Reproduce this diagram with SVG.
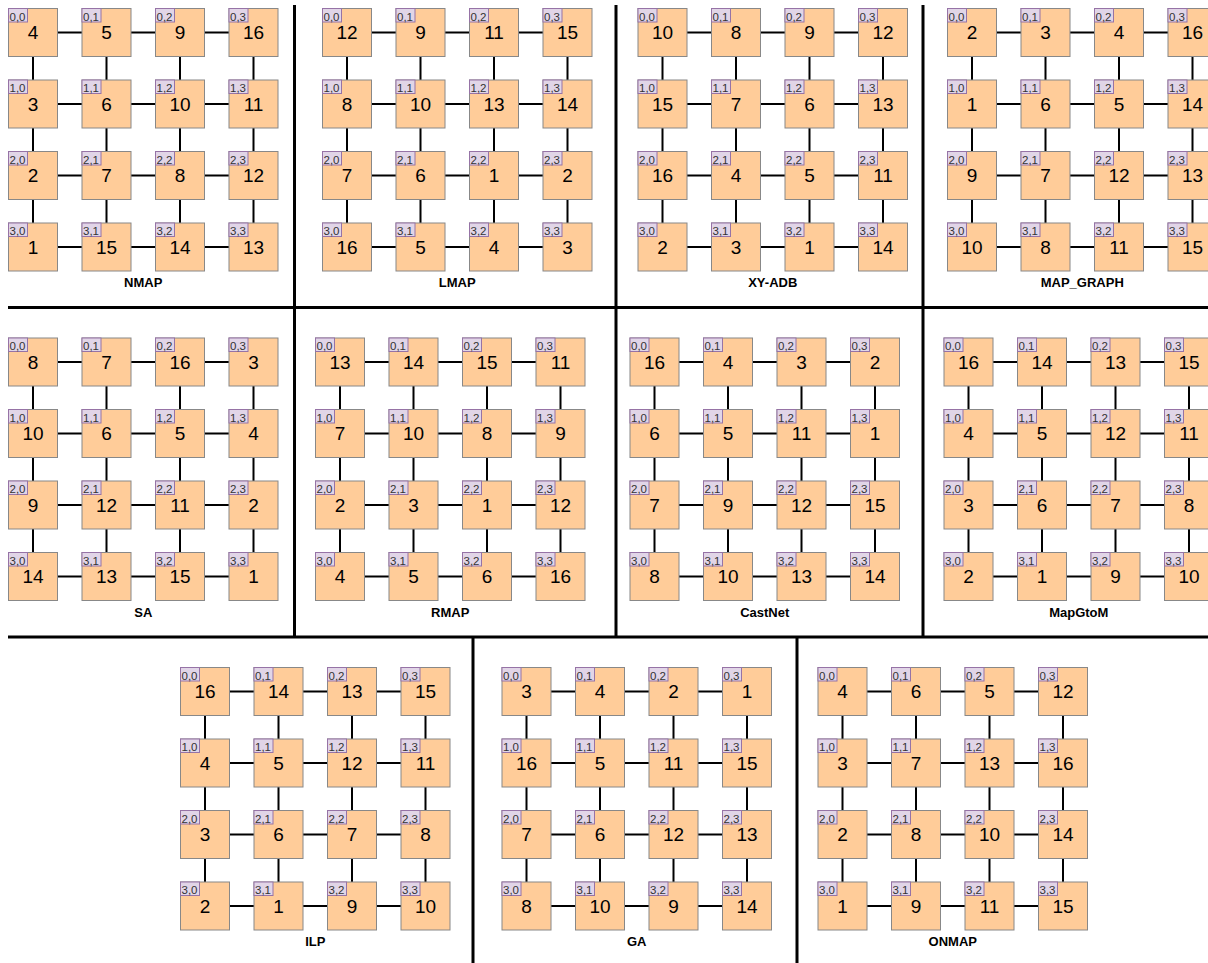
<svg xmlns="http://www.w3.org/2000/svg" xmlns:xlink="http://www.w3.org/1999/xlink" width="1208" height="963" viewBox="0 0 1208 963">
<style>
.n{fill:#ffcc99;stroke:#888;stroke-width:1}
.t{fill:#e1d5e7;stroke:#9673a6;stroke-width:1}
.c{font-family:"Liberation Sans",Arial,sans-serif;font-size:11.5px;fill:#333}
.v{font-family:"Liberation Sans",Arial,sans-serif;font-size:19px;fill:#000;text-anchor:middle}
.lbl{font-family:"Liberation Sans",Arial,sans-serif;font-size:13px;font-weight:bold;fill:#000;text-anchor:middle}
.e{fill:none;stroke:#000;stroke-width:2}
.d{fill:none;stroke:#000;stroke-width:3}
</style>
<defs>
<path id="grid" class="e" d="M49 24H73.5M122.5 24H147M196 24H220.5M49 95.5H73.5M122.5 95.5H147M196 95.5H220.5M49 167H73.5M122.5 167H147M196 167H220.5M49 238.5H73.5M122.5 238.5H147M196 238.5H220.5M24.5 48V71.5M24.5 119.5V143M24.5 191V214.5M98 48V71.5M98 119.5V143M98 191V214.5M171.5 48V71.5M171.5 119.5V143M171.5 191V214.5M245 48V71.5M245 119.5V143M245 191V214.5"/>
</defs>
<rect width="1208" height="963" fill="#fff"/>
<g id="dividers">
<path class="d" d="M8 307.5H1208M8 637H1208M294.5 5V637M616 5V637M923 5V637M473 637V963M797 637V963"/>
</g>
<g id="connectors">
<use xlink:href="#grid" transform="translate(8.5,8.5)"/>
<use xlink:href="#grid" transform="translate(322.5,8.5)"/>
<use xlink:href="#grid" transform="translate(638,8.5)"/>
<use xlink:href="#grid" transform="translate(947.5,8.5)"/>
<use xlink:href="#grid" transform="translate(8.5,338)"/>
<use xlink:href="#grid" transform="translate(315.5,338)"/>
<use xlink:href="#grid" transform="translate(630,338)"/>
<use xlink:href="#grid" transform="translate(944,338)"/>
<use xlink:href="#grid" transform="translate(180.5,667.5)"/>
<use xlink:href="#grid" transform="translate(502,667.5)"/>
<use xlink:href="#grid" transform="translate(818,667.5)"/>
</g>

<g id="nmap" transform="translate(8.5,8.5)">
<g id="nmap-00" transform="translate(0,0)"><rect class="n" width="49" height="48"/><rect class="t" width="19" height="13.5"/><text class="c" x="1" y="12">0,0</text><text class="v" x="24.5" y="30.5">4</text></g>
<g id="nmap-01" transform="translate(73.5,0)"><rect class="n" width="49" height="48"/><rect class="t" width="19" height="13.5"/><text class="c" x="1" y="12">0,1</text><text class="v" x="24.5" y="30.5">5</text></g>
<g id="nmap-02" transform="translate(147,0)"><rect class="n" width="49" height="48"/><rect class="t" width="19" height="13.5"/><text class="c" x="1" y="12">0,2</text><text class="v" x="24.5" y="30.5">9</text></g>
<g id="nmap-03" transform="translate(220.5,0)"><rect class="n" width="49" height="48"/><rect class="t" width="19" height="13.5"/><text class="c" x="1" y="12">0,3</text><text class="v" x="24.5" y="30.5">16</text></g>
<g id="nmap-10" transform="translate(0,71.5)"><rect class="n" width="49" height="48"/><rect class="t" width="19" height="13.5"/><text class="c" x="1" y="12">1,0</text><text class="v" x="24.5" y="30.5">3</text></g>
<g id="nmap-11" transform="translate(73.5,71.5)"><rect class="n" width="49" height="48"/><rect class="t" width="19" height="13.5"/><text class="c" x="1" y="12">1,1</text><text class="v" x="24.5" y="30.5">6</text></g>
<g id="nmap-12" transform="translate(147,71.5)"><rect class="n" width="49" height="48"/><rect class="t" width="19" height="13.5"/><text class="c" x="1" y="12">1,2</text><text class="v" x="24.5" y="30.5">10</text></g>
<g id="nmap-13" transform="translate(220.5,71.5)"><rect class="n" width="49" height="48"/><rect class="t" width="19" height="13.5"/><text class="c" x="1" y="12">1,3</text><text class="v" x="24.5" y="30.5">11</text></g>
<g id="nmap-20" transform="translate(0,143)"><rect class="n" width="49" height="48"/><rect class="t" width="19" height="13.5"/><text class="c" x="1" y="12">2,0</text><text class="v" x="24.5" y="30.5">2</text></g>
<g id="nmap-21" transform="translate(73.5,143)"><rect class="n" width="49" height="48"/><rect class="t" width="19" height="13.5"/><text class="c" x="1" y="12">2,1</text><text class="v" x="24.5" y="30.5">7</text></g>
<g id="nmap-22" transform="translate(147,143)"><rect class="n" width="49" height="48"/><rect class="t" width="19" height="13.5"/><text class="c" x="1" y="12">2,2</text><text class="v" x="24.5" y="30.5">8</text></g>
<g id="nmap-23" transform="translate(220.5,143)"><rect class="n" width="49" height="48"/><rect class="t" width="19" height="13.5"/><text class="c" x="1" y="12">2,3</text><text class="v" x="24.5" y="30.5">12</text></g>
<g id="nmap-30" transform="translate(0,214.5)"><rect class="n" width="49" height="48"/><rect class="t" width="19" height="13.5"/><text class="c" x="1" y="12">3,0</text><text class="v" x="24.5" y="30.5">1</text></g>
<g id="nmap-31" transform="translate(73.5,214.5)"><rect class="n" width="49" height="48"/><rect class="t" width="19" height="13.5"/><text class="c" x="1" y="12">3,1</text><text class="v" x="24.5" y="30.5">15</text></g>
<g id="nmap-32" transform="translate(147,214.5)"><rect class="n" width="49" height="48"/><rect class="t" width="19" height="13.5"/><text class="c" x="1" y="12">3,2</text><text class="v" x="24.5" y="30.5">14</text></g>
<g id="nmap-33" transform="translate(220.5,214.5)"><rect class="n" width="49" height="48"/><rect class="t" width="19" height="13.5"/><text class="c" x="1" y="12">3,3</text><text class="v" x="24.5" y="30.5">13</text></g>
<text class="lbl" x="134.75" y="278.5">NMAP</text>
</g>

<g id="lmap" transform="translate(322.5,8.5)">
<g id="lmap-00" transform="translate(0,0)"><rect class="n" width="49" height="48"/><rect class="t" width="19" height="13.5"/><text class="c" x="1" y="12">0,0</text><text class="v" x="24.5" y="30.5">12</text></g>
<g id="lmap-01" transform="translate(73.5,0)"><rect class="n" width="49" height="48"/><rect class="t" width="19" height="13.5"/><text class="c" x="1" y="12">0,1</text><text class="v" x="24.5" y="30.5">9</text></g>
<g id="lmap-02" transform="translate(147,0)"><rect class="n" width="49" height="48"/><rect class="t" width="19" height="13.5"/><text class="c" x="1" y="12">0,2</text><text class="v" x="24.5" y="30.5">11</text></g>
<g id="lmap-03" transform="translate(220.5,0)"><rect class="n" width="49" height="48"/><rect class="t" width="19" height="13.5"/><text class="c" x="1" y="12">0,3</text><text class="v" x="24.5" y="30.5">15</text></g>
<g id="lmap-10" transform="translate(0,71.5)"><rect class="n" width="49" height="48"/><rect class="t" width="19" height="13.5"/><text class="c" x="1" y="12">1,0</text><text class="v" x="24.5" y="30.5">8</text></g>
<g id="lmap-11" transform="translate(73.5,71.5)"><rect class="n" width="49" height="48"/><rect class="t" width="19" height="13.5"/><text class="c" x="1" y="12">1,1</text><text class="v" x="24.5" y="30.5">10</text></g>
<g id="lmap-12" transform="translate(147,71.5)"><rect class="n" width="49" height="48"/><rect class="t" width="19" height="13.5"/><text class="c" x="1" y="12">1,2</text><text class="v" x="24.5" y="30.5">13</text></g>
<g id="lmap-13" transform="translate(220.5,71.5)"><rect class="n" width="49" height="48"/><rect class="t" width="19" height="13.5"/><text class="c" x="1" y="12">1,3</text><text class="v" x="24.5" y="30.5">14</text></g>
<g id="lmap-20" transform="translate(0,143)"><rect class="n" width="49" height="48"/><rect class="t" width="19" height="13.5"/><text class="c" x="1" y="12">2,0</text><text class="v" x="24.5" y="30.5">7</text></g>
<g id="lmap-21" transform="translate(73.5,143)"><rect class="n" width="49" height="48"/><rect class="t" width="19" height="13.5"/><text class="c" x="1" y="12">2,1</text><text class="v" x="24.5" y="30.5">6</text></g>
<g id="lmap-22" transform="translate(147,143)"><rect class="n" width="49" height="48"/><rect class="t" width="19" height="13.5"/><text class="c" x="1" y="12">2,2</text><text class="v" x="24.5" y="30.5">1</text></g>
<g id="lmap-23" transform="translate(220.5,143)"><rect class="n" width="49" height="48"/><rect class="t" width="19" height="13.5"/><text class="c" x="1" y="12">2,3</text><text class="v" x="24.5" y="30.5">2</text></g>
<g id="lmap-30" transform="translate(0,214.5)"><rect class="n" width="49" height="48"/><rect class="t" width="19" height="13.5"/><text class="c" x="1" y="12">3,0</text><text class="v" x="24.5" y="30.5">16</text></g>
<g id="lmap-31" transform="translate(73.5,214.5)"><rect class="n" width="49" height="48"/><rect class="t" width="19" height="13.5"/><text class="c" x="1" y="12">3,1</text><text class="v" x="24.5" y="30.5">5</text></g>
<g id="lmap-32" transform="translate(147,214.5)"><rect class="n" width="49" height="48"/><rect class="t" width="19" height="13.5"/><text class="c" x="1" y="12">3,2</text><text class="v" x="24.5" y="30.5">4</text></g>
<g id="lmap-33" transform="translate(220.5,214.5)"><rect class="n" width="49" height="48"/><rect class="t" width="19" height="13.5"/><text class="c" x="1" y="12">3,3</text><text class="v" x="24.5" y="30.5">3</text></g>
<text class="lbl" x="134.75" y="278.5">LMAP</text>
</g>

<g id="xyadb" transform="translate(638,8.5)">
<g id="xyadb-00" transform="translate(0,0)"><rect class="n" width="49" height="48"/><rect class="t" width="19" height="13.5"/><text class="c" x="1" y="12">0,0</text><text class="v" x="24.5" y="30.5">10</text></g>
<g id="xyadb-01" transform="translate(73.5,0)"><rect class="n" width="49" height="48"/><rect class="t" width="19" height="13.5"/><text class="c" x="1" y="12">0,1</text><text class="v" x="24.5" y="30.5">8</text></g>
<g id="xyadb-02" transform="translate(147,0)"><rect class="n" width="49" height="48"/><rect class="t" width="19" height="13.5"/><text class="c" x="1" y="12">0,2</text><text class="v" x="24.5" y="30.5">9</text></g>
<g id="xyadb-03" transform="translate(220.5,0)"><rect class="n" width="49" height="48"/><rect class="t" width="19" height="13.5"/><text class="c" x="1" y="12">0,3</text><text class="v" x="24.5" y="30.5">12</text></g>
<g id="xyadb-10" transform="translate(0,71.5)"><rect class="n" width="49" height="48"/><rect class="t" width="19" height="13.5"/><text class="c" x="1" y="12">1,0</text><text class="v" x="24.5" y="30.5">15</text></g>
<g id="xyadb-11" transform="translate(73.5,71.5)"><rect class="n" width="49" height="48"/><rect class="t" width="19" height="13.5"/><text class="c" x="1" y="12">1,1</text><text class="v" x="24.5" y="30.5">7</text></g>
<g id="xyadb-12" transform="translate(147,71.5)"><rect class="n" width="49" height="48"/><rect class="t" width="19" height="13.5"/><text class="c" x="1" y="12">1,2</text><text class="v" x="24.5" y="30.5">6</text></g>
<g id="xyadb-13" transform="translate(220.5,71.5)"><rect class="n" width="49" height="48"/><rect class="t" width="19" height="13.5"/><text class="c" x="1" y="12">1,3</text><text class="v" x="24.5" y="30.5">13</text></g>
<g id="xyadb-20" transform="translate(0,143)"><rect class="n" width="49" height="48"/><rect class="t" width="19" height="13.5"/><text class="c" x="1" y="12">2,0</text><text class="v" x="24.5" y="30.5">16</text></g>
<g id="xyadb-21" transform="translate(73.5,143)"><rect class="n" width="49" height="48"/><rect class="t" width="19" height="13.5"/><text class="c" x="1" y="12">2,1</text><text class="v" x="24.5" y="30.5">4</text></g>
<g id="xyadb-22" transform="translate(147,143)"><rect class="n" width="49" height="48"/><rect class="t" width="19" height="13.5"/><text class="c" x="1" y="12">2,2</text><text class="v" x="24.5" y="30.5">5</text></g>
<g id="xyadb-23" transform="translate(220.5,143)"><rect class="n" width="49" height="48"/><rect class="t" width="19" height="13.5"/><text class="c" x="1" y="12">2,3</text><text class="v" x="24.5" y="30.5">11</text></g>
<g id="xyadb-30" transform="translate(0,214.5)"><rect class="n" width="49" height="48"/><rect class="t" width="19" height="13.5"/><text class="c" x="1" y="12">3,0</text><text class="v" x="24.5" y="30.5">2</text></g>
<g id="xyadb-31" transform="translate(73.5,214.5)"><rect class="n" width="49" height="48"/><rect class="t" width="19" height="13.5"/><text class="c" x="1" y="12">3,1</text><text class="v" x="24.5" y="30.5">3</text></g>
<g id="xyadb-32" transform="translate(147,214.5)"><rect class="n" width="49" height="48"/><rect class="t" width="19" height="13.5"/><text class="c" x="1" y="12">3,2</text><text class="v" x="24.5" y="30.5">1</text></g>
<g id="xyadb-33" transform="translate(220.5,214.5)"><rect class="n" width="49" height="48"/><rect class="t" width="19" height="13.5"/><text class="c" x="1" y="12">3,3</text><text class="v" x="24.5" y="30.5">14</text></g>
<text class="lbl" x="134.75" y="278.5">XY-ADB</text>
</g>

<g id="mapgraph" transform="translate(947.5,8.5)">
<g id="mapgraph-00" transform="translate(0,0)"><rect class="n" width="49" height="48"/><rect class="t" width="19" height="13.5"/><text class="c" x="1" y="12">0,0</text><text class="v" x="24.5" y="30.5">2</text></g>
<g id="mapgraph-01" transform="translate(73.5,0)"><rect class="n" width="49" height="48"/><rect class="t" width="19" height="13.5"/><text class="c" x="1" y="12">0,1</text><text class="v" x="24.5" y="30.5">3</text></g>
<g id="mapgraph-02" transform="translate(147,0)"><rect class="n" width="49" height="48"/><rect class="t" width="19" height="13.5"/><text class="c" x="1" y="12">0,2</text><text class="v" x="24.5" y="30.5">4</text></g>
<g id="mapgraph-03" transform="translate(220.5,0)"><rect class="n" width="49" height="48"/><rect class="t" width="19" height="13.5"/><text class="c" x="1" y="12">0,3</text><text class="v" x="24.5" y="30.5">16</text></g>
<g id="mapgraph-10" transform="translate(0,71.5)"><rect class="n" width="49" height="48"/><rect class="t" width="19" height="13.5"/><text class="c" x="1" y="12">1,0</text><text class="v" x="24.5" y="30.5">1</text></g>
<g id="mapgraph-11" transform="translate(73.5,71.5)"><rect class="n" width="49" height="48"/><rect class="t" width="19" height="13.5"/><text class="c" x="1" y="12">1,1</text><text class="v" x="24.5" y="30.5">6</text></g>
<g id="mapgraph-12" transform="translate(147,71.5)"><rect class="n" width="49" height="48"/><rect class="t" width="19" height="13.5"/><text class="c" x="1" y="12">1,2</text><text class="v" x="24.5" y="30.5">5</text></g>
<g id="mapgraph-13" transform="translate(220.5,71.5)"><rect class="n" width="49" height="48"/><rect class="t" width="19" height="13.5"/><text class="c" x="1" y="12">1,3</text><text class="v" x="24.5" y="30.5">14</text></g>
<g id="mapgraph-20" transform="translate(0,143)"><rect class="n" width="49" height="48"/><rect class="t" width="19" height="13.5"/><text class="c" x="1" y="12">2,0</text><text class="v" x="24.5" y="30.5">9</text></g>
<g id="mapgraph-21" transform="translate(73.5,143)"><rect class="n" width="49" height="48"/><rect class="t" width="19" height="13.5"/><text class="c" x="1" y="12">2,1</text><text class="v" x="24.5" y="30.5">7</text></g>
<g id="mapgraph-22" transform="translate(147,143)"><rect class="n" width="49" height="48"/><rect class="t" width="19" height="13.5"/><text class="c" x="1" y="12">2,2</text><text class="v" x="24.5" y="30.5">12</text></g>
<g id="mapgraph-23" transform="translate(220.5,143)"><rect class="n" width="49" height="48"/><rect class="t" width="19" height="13.5"/><text class="c" x="1" y="12">2,3</text><text class="v" x="24.5" y="30.5">13</text></g>
<g id="mapgraph-30" transform="translate(0,214.5)"><rect class="n" width="49" height="48"/><rect class="t" width="19" height="13.5"/><text class="c" x="1" y="12">3,0</text><text class="v" x="24.5" y="30.5">10</text></g>
<g id="mapgraph-31" transform="translate(73.5,214.5)"><rect class="n" width="49" height="48"/><rect class="t" width="19" height="13.5"/><text class="c" x="1" y="12">3,1</text><text class="v" x="24.5" y="30.5">8</text></g>
<g id="mapgraph-32" transform="translate(147,214.5)"><rect class="n" width="49" height="48"/><rect class="t" width="19" height="13.5"/><text class="c" x="1" y="12">3,2</text><text class="v" x="24.5" y="30.5">11</text></g>
<g id="mapgraph-33" transform="translate(220.5,214.5)"><rect class="n" width="49" height="48"/><rect class="t" width="19" height="13.5"/><text class="c" x="1" y="12">3,3</text><text class="v" x="24.5" y="30.5">15</text></g>
<text class="lbl" x="134.75" y="278.5">MAP_GRAPH</text>
</g>

<g id="sa" transform="translate(8.5,338)">
<g id="sa-00" transform="translate(0,0)"><rect class="n" width="49" height="48"/><rect class="t" width="19" height="13.5"/><text class="c" x="1" y="12">0,0</text><text class="v" x="24.5" y="30.5">8</text></g>
<g id="sa-01" transform="translate(73.5,0)"><rect class="n" width="49" height="48"/><rect class="t" width="19" height="13.5"/><text class="c" x="1" y="12">0,1</text><text class="v" x="24.5" y="30.5">7</text></g>
<g id="sa-02" transform="translate(147,0)"><rect class="n" width="49" height="48"/><rect class="t" width="19" height="13.5"/><text class="c" x="1" y="12">0,2</text><text class="v" x="24.5" y="30.5">16</text></g>
<g id="sa-03" transform="translate(220.5,0)"><rect class="n" width="49" height="48"/><rect class="t" width="19" height="13.5"/><text class="c" x="1" y="12">0,3</text><text class="v" x="24.5" y="30.5">3</text></g>
<g id="sa-10" transform="translate(0,71.5)"><rect class="n" width="49" height="48"/><rect class="t" width="19" height="13.5"/><text class="c" x="1" y="12">1,0</text><text class="v" x="24.5" y="30.5">10</text></g>
<g id="sa-11" transform="translate(73.5,71.5)"><rect class="n" width="49" height="48"/><rect class="t" width="19" height="13.5"/><text class="c" x="1" y="12">1,1</text><text class="v" x="24.5" y="30.5">6</text></g>
<g id="sa-12" transform="translate(147,71.5)"><rect class="n" width="49" height="48"/><rect class="t" width="19" height="13.5"/><text class="c" x="1" y="12">1,2</text><text class="v" x="24.5" y="30.5">5</text></g>
<g id="sa-13" transform="translate(220.5,71.5)"><rect class="n" width="49" height="48"/><rect class="t" width="19" height="13.5"/><text class="c" x="1" y="12">1,3</text><text class="v" x="24.5" y="30.5">4</text></g>
<g id="sa-20" transform="translate(0,143)"><rect class="n" width="49" height="48"/><rect class="t" width="19" height="13.5"/><text class="c" x="1" y="12">2,0</text><text class="v" x="24.5" y="30.5">9</text></g>
<g id="sa-21" transform="translate(73.5,143)"><rect class="n" width="49" height="48"/><rect class="t" width="19" height="13.5"/><text class="c" x="1" y="12">2,1</text><text class="v" x="24.5" y="30.5">12</text></g>
<g id="sa-22" transform="translate(147,143)"><rect class="n" width="49" height="48"/><rect class="t" width="19" height="13.5"/><text class="c" x="1" y="12">2,2</text><text class="v" x="24.5" y="30.5">11</text></g>
<g id="sa-23" transform="translate(220.5,143)"><rect class="n" width="49" height="48"/><rect class="t" width="19" height="13.5"/><text class="c" x="1" y="12">2,3</text><text class="v" x="24.5" y="30.5">2</text></g>
<g id="sa-30" transform="translate(0,214.5)"><rect class="n" width="49" height="48"/><rect class="t" width="19" height="13.5"/><text class="c" x="1" y="12">3,0</text><text class="v" x="24.5" y="30.5">14</text></g>
<g id="sa-31" transform="translate(73.5,214.5)"><rect class="n" width="49" height="48"/><rect class="t" width="19" height="13.5"/><text class="c" x="1" y="12">3,1</text><text class="v" x="24.5" y="30.5">13</text></g>
<g id="sa-32" transform="translate(147,214.5)"><rect class="n" width="49" height="48"/><rect class="t" width="19" height="13.5"/><text class="c" x="1" y="12">3,2</text><text class="v" x="24.5" y="30.5">15</text></g>
<g id="sa-33" transform="translate(220.5,214.5)"><rect class="n" width="49" height="48"/><rect class="t" width="19" height="13.5"/><text class="c" x="1" y="12">3,3</text><text class="v" x="24.5" y="30.5">1</text></g>
<text class="lbl" x="134.75" y="278.5">SA</text>
</g>

<g id="rmap" transform="translate(315.5,338)">
<g id="rmap-00" transform="translate(0,0)"><rect class="n" width="49" height="48"/><rect class="t" width="19" height="13.5"/><text class="c" x="1" y="12">0,0</text><text class="v" x="24.5" y="30.5">13</text></g>
<g id="rmap-01" transform="translate(73.5,0)"><rect class="n" width="49" height="48"/><rect class="t" width="19" height="13.5"/><text class="c" x="1" y="12">0,1</text><text class="v" x="24.5" y="30.5">14</text></g>
<g id="rmap-02" transform="translate(147,0)"><rect class="n" width="49" height="48"/><rect class="t" width="19" height="13.5"/><text class="c" x="1" y="12">0,2</text><text class="v" x="24.5" y="30.5">15</text></g>
<g id="rmap-03" transform="translate(220.5,0)"><rect class="n" width="49" height="48"/><rect class="t" width="19" height="13.5"/><text class="c" x="1" y="12">0,3</text><text class="v" x="24.5" y="30.5">11</text></g>
<g id="rmap-10" transform="translate(0,71.5)"><rect class="n" width="49" height="48"/><rect class="t" width="19" height="13.5"/><text class="c" x="1" y="12">1,0</text><text class="v" x="24.5" y="30.5">7</text></g>
<g id="rmap-11" transform="translate(73.5,71.5)"><rect class="n" width="49" height="48"/><rect class="t" width="19" height="13.5"/><text class="c" x="1" y="12">1,1</text><text class="v" x="24.5" y="30.5">10</text></g>
<g id="rmap-12" transform="translate(147,71.5)"><rect class="n" width="49" height="48"/><rect class="t" width="19" height="13.5"/><text class="c" x="1" y="12">1,2</text><text class="v" x="24.5" y="30.5">8</text></g>
<g id="rmap-13" transform="translate(220.5,71.5)"><rect class="n" width="49" height="48"/><rect class="t" width="19" height="13.5"/><text class="c" x="1" y="12">1,3</text><text class="v" x="24.5" y="30.5">9</text></g>
<g id="rmap-20" transform="translate(0,143)"><rect class="n" width="49" height="48"/><rect class="t" width="19" height="13.5"/><text class="c" x="1" y="12">2,0</text><text class="v" x="24.5" y="30.5">2</text></g>
<g id="rmap-21" transform="translate(73.5,143)"><rect class="n" width="49" height="48"/><rect class="t" width="19" height="13.5"/><text class="c" x="1" y="12">2,1</text><text class="v" x="24.5" y="30.5">3</text></g>
<g id="rmap-22" transform="translate(147,143)"><rect class="n" width="49" height="48"/><rect class="t" width="19" height="13.5"/><text class="c" x="1" y="12">2,2</text><text class="v" x="24.5" y="30.5">1</text></g>
<g id="rmap-23" transform="translate(220.5,143)"><rect class="n" width="49" height="48"/><rect class="t" width="19" height="13.5"/><text class="c" x="1" y="12">2,3</text><text class="v" x="24.5" y="30.5">12</text></g>
<g id="rmap-30" transform="translate(0,214.5)"><rect class="n" width="49" height="48"/><rect class="t" width="19" height="13.5"/><text class="c" x="1" y="12">3,0</text><text class="v" x="24.5" y="30.5">4</text></g>
<g id="rmap-31" transform="translate(73.5,214.5)"><rect class="n" width="49" height="48"/><rect class="t" width="19" height="13.5"/><text class="c" x="1" y="12">3,1</text><text class="v" x="24.5" y="30.5">5</text></g>
<g id="rmap-32" transform="translate(147,214.5)"><rect class="n" width="49" height="48"/><rect class="t" width="19" height="13.5"/><text class="c" x="1" y="12">3,2</text><text class="v" x="24.5" y="30.5">6</text></g>
<g id="rmap-33" transform="translate(220.5,214.5)"><rect class="n" width="49" height="48"/><rect class="t" width="19" height="13.5"/><text class="c" x="1" y="12">3,3</text><text class="v" x="24.5" y="30.5">16</text></g>
<text class="lbl" x="134.75" y="278.5">RMAP</text>
</g>

<g id="castnet" transform="translate(630,338)">
<g id="castnet-00" transform="translate(0,0)"><rect class="n" width="49" height="48"/><rect class="t" width="19" height="13.5"/><text class="c" x="1" y="12">0,0</text><text class="v" x="24.5" y="30.5">16</text></g>
<g id="castnet-01" transform="translate(73.5,0)"><rect class="n" width="49" height="48"/><rect class="t" width="19" height="13.5"/><text class="c" x="1" y="12">0,1</text><text class="v" x="24.5" y="30.5">4</text></g>
<g id="castnet-02" transform="translate(147,0)"><rect class="n" width="49" height="48"/><rect class="t" width="19" height="13.5"/><text class="c" x="1" y="12">0,2</text><text class="v" x="24.5" y="30.5">3</text></g>
<g id="castnet-03" transform="translate(220.5,0)"><rect class="n" width="49" height="48"/><rect class="t" width="19" height="13.5"/><text class="c" x="1" y="12">0,3</text><text class="v" x="24.5" y="30.5">2</text></g>
<g id="castnet-10" transform="translate(0,71.5)"><rect class="n" width="49" height="48"/><rect class="t" width="19" height="13.5"/><text class="c" x="1" y="12">1,0</text><text class="v" x="24.5" y="30.5">6</text></g>
<g id="castnet-11" transform="translate(73.5,71.5)"><rect class="n" width="49" height="48"/><rect class="t" width="19" height="13.5"/><text class="c" x="1" y="12">1,1</text><text class="v" x="24.5" y="30.5">5</text></g>
<g id="castnet-12" transform="translate(147,71.5)"><rect class="n" width="49" height="48"/><rect class="t" width="19" height="13.5"/><text class="c" x="1" y="12">1,2</text><text class="v" x="24.5" y="30.5">11</text></g>
<g id="castnet-13" transform="translate(220.5,71.5)"><rect class="n" width="49" height="48"/><rect class="t" width="19" height="13.5"/><text class="c" x="1" y="12">1,3</text><text class="v" x="24.5" y="30.5">1</text></g>
<g id="castnet-20" transform="translate(0,143)"><rect class="n" width="49" height="48"/><rect class="t" width="19" height="13.5"/><text class="c" x="1" y="12">2,0</text><text class="v" x="24.5" y="30.5">7</text></g>
<g id="castnet-21" transform="translate(73.5,143)"><rect class="n" width="49" height="48"/><rect class="t" width="19" height="13.5"/><text class="c" x="1" y="12">2,1</text><text class="v" x="24.5" y="30.5">9</text></g>
<g id="castnet-22" transform="translate(147,143)"><rect class="n" width="49" height="48"/><rect class="t" width="19" height="13.5"/><text class="c" x="1" y="12">2,2</text><text class="v" x="24.5" y="30.5">12</text></g>
<g id="castnet-23" transform="translate(220.5,143)"><rect class="n" width="49" height="48"/><rect class="t" width="19" height="13.5"/><text class="c" x="1" y="12">2,3</text><text class="v" x="24.5" y="30.5">15</text></g>
<g id="castnet-30" transform="translate(0,214.5)"><rect class="n" width="49" height="48"/><rect class="t" width="19" height="13.5"/><text class="c" x="1" y="12">3,0</text><text class="v" x="24.5" y="30.5">8</text></g>
<g id="castnet-31" transform="translate(73.5,214.5)"><rect class="n" width="49" height="48"/><rect class="t" width="19" height="13.5"/><text class="c" x="1" y="12">3,1</text><text class="v" x="24.5" y="30.5">10</text></g>
<g id="castnet-32" transform="translate(147,214.5)"><rect class="n" width="49" height="48"/><rect class="t" width="19" height="13.5"/><text class="c" x="1" y="12">3,2</text><text class="v" x="24.5" y="30.5">13</text></g>
<g id="castnet-33" transform="translate(220.5,214.5)"><rect class="n" width="49" height="48"/><rect class="t" width="19" height="13.5"/><text class="c" x="1" y="12">3,3</text><text class="v" x="24.5" y="30.5">14</text></g>
<text class="lbl" x="134.75" y="278.5">CastNet</text>
</g>

<g id="mapgtom" transform="translate(944,338)">
<g id="mapgtom-00" transform="translate(0,0)"><rect class="n" width="49" height="48"/><rect class="t" width="19" height="13.5"/><text class="c" x="1" y="12">0,0</text><text class="v" x="24.5" y="30.5">16</text></g>
<g id="mapgtom-01" transform="translate(73.5,0)"><rect class="n" width="49" height="48"/><rect class="t" width="19" height="13.5"/><text class="c" x="1" y="12">0,1</text><text class="v" x="24.5" y="30.5">14</text></g>
<g id="mapgtom-02" transform="translate(147,0)"><rect class="n" width="49" height="48"/><rect class="t" width="19" height="13.5"/><text class="c" x="1" y="12">0,2</text><text class="v" x="24.5" y="30.5">13</text></g>
<g id="mapgtom-03" transform="translate(220.5,0)"><rect class="n" width="49" height="48"/><rect class="t" width="19" height="13.5"/><text class="c" x="1" y="12">0,3</text><text class="v" x="24.5" y="30.5">15</text></g>
<g id="mapgtom-10" transform="translate(0,71.5)"><rect class="n" width="49" height="48"/><rect class="t" width="19" height="13.5"/><text class="c" x="1" y="12">1,0</text><text class="v" x="24.5" y="30.5">4</text></g>
<g id="mapgtom-11" transform="translate(73.5,71.5)"><rect class="n" width="49" height="48"/><rect class="t" width="19" height="13.5"/><text class="c" x="1" y="12">1,1</text><text class="v" x="24.5" y="30.5">5</text></g>
<g id="mapgtom-12" transform="translate(147,71.5)"><rect class="n" width="49" height="48"/><rect class="t" width="19" height="13.5"/><text class="c" x="1" y="12">1,2</text><text class="v" x="24.5" y="30.5">12</text></g>
<g id="mapgtom-13" transform="translate(220.5,71.5)"><rect class="n" width="49" height="48"/><rect class="t" width="19" height="13.5"/><text class="c" x="1" y="12">1,3</text><text class="v" x="24.5" y="30.5">11</text></g>
<g id="mapgtom-20" transform="translate(0,143)"><rect class="n" width="49" height="48"/><rect class="t" width="19" height="13.5"/><text class="c" x="1" y="12">2,0</text><text class="v" x="24.5" y="30.5">3</text></g>
<g id="mapgtom-21" transform="translate(73.5,143)"><rect class="n" width="49" height="48"/><rect class="t" width="19" height="13.5"/><text class="c" x="1" y="12">2,1</text><text class="v" x="24.5" y="30.5">6</text></g>
<g id="mapgtom-22" transform="translate(147,143)"><rect class="n" width="49" height="48"/><rect class="t" width="19" height="13.5"/><text class="c" x="1" y="12">2,2</text><text class="v" x="24.5" y="30.5">7</text></g>
<g id="mapgtom-23" transform="translate(220.5,143)"><rect class="n" width="49" height="48"/><rect class="t" width="19" height="13.5"/><text class="c" x="1" y="12">2,3</text><text class="v" x="24.5" y="30.5">8</text></g>
<g id="mapgtom-30" transform="translate(0,214.5)"><rect class="n" width="49" height="48"/><rect class="t" width="19" height="13.5"/><text class="c" x="1" y="12">3,0</text><text class="v" x="24.5" y="30.5">2</text></g>
<g id="mapgtom-31" transform="translate(73.5,214.5)"><rect class="n" width="49" height="48"/><rect class="t" width="19" height="13.5"/><text class="c" x="1" y="12">3,1</text><text class="v" x="24.5" y="30.5">1</text></g>
<g id="mapgtom-32" transform="translate(147,214.5)"><rect class="n" width="49" height="48"/><rect class="t" width="19" height="13.5"/><text class="c" x="1" y="12">3,2</text><text class="v" x="24.5" y="30.5">9</text></g>
<g id="mapgtom-33" transform="translate(220.5,214.5)"><rect class="n" width="49" height="48"/><rect class="t" width="19" height="13.5"/><text class="c" x="1" y="12">3,3</text><text class="v" x="24.5" y="30.5">10</text></g>
<text class="lbl" x="134.75" y="278.5">MapGtoM</text>
</g>

<g id="ilp" transform="translate(180.5,667.5)">
<g id="ilp-00" transform="translate(0,0)"><rect class="n" width="49" height="48"/><rect class="t" width="19" height="13.5"/><text class="c" x="1" y="12">0,0</text><text class="v" x="24.5" y="30.5">16</text></g>
<g id="ilp-01" transform="translate(73.5,0)"><rect class="n" width="49" height="48"/><rect class="t" width="19" height="13.5"/><text class="c" x="1" y="12">0,1</text><text class="v" x="24.5" y="30.5">14</text></g>
<g id="ilp-02" transform="translate(147,0)"><rect class="n" width="49" height="48"/><rect class="t" width="19" height="13.5"/><text class="c" x="1" y="12">0,2</text><text class="v" x="24.5" y="30.5">13</text></g>
<g id="ilp-03" transform="translate(220.5,0)"><rect class="n" width="49" height="48"/><rect class="t" width="19" height="13.5"/><text class="c" x="1" y="12">0,3</text><text class="v" x="24.5" y="30.5">15</text></g>
<g id="ilp-10" transform="translate(0,71.5)"><rect class="n" width="49" height="48"/><rect class="t" width="19" height="13.5"/><text class="c" x="1" y="12">1,0</text><text class="v" x="24.5" y="30.5">4</text></g>
<g id="ilp-11" transform="translate(73.5,71.5)"><rect class="n" width="49" height="48"/><rect class="t" width="19" height="13.5"/><text class="c" x="1" y="12">1,1</text><text class="v" x="24.5" y="30.5">5</text></g>
<g id="ilp-12" transform="translate(147,71.5)"><rect class="n" width="49" height="48"/><rect class="t" width="19" height="13.5"/><text class="c" x="1" y="12">1,2</text><text class="v" x="24.5" y="30.5">12</text></g>
<g id="ilp-13" transform="translate(220.5,71.5)"><rect class="n" width="49" height="48"/><rect class="t" width="19" height="13.5"/><text class="c" x="1" y="12">1,3</text><text class="v" x="24.5" y="30.5">11</text></g>
<g id="ilp-20" transform="translate(0,143)"><rect class="n" width="49" height="48"/><rect class="t" width="19" height="13.5"/><text class="c" x="1" y="12">2,0</text><text class="v" x="24.5" y="30.5">3</text></g>
<g id="ilp-21" transform="translate(73.5,143)"><rect class="n" width="49" height="48"/><rect class="t" width="19" height="13.5"/><text class="c" x="1" y="12">2,1</text><text class="v" x="24.5" y="30.5">6</text></g>
<g id="ilp-22" transform="translate(147,143)"><rect class="n" width="49" height="48"/><rect class="t" width="19" height="13.5"/><text class="c" x="1" y="12">2,2</text><text class="v" x="24.5" y="30.5">7</text></g>
<g id="ilp-23" transform="translate(220.5,143)"><rect class="n" width="49" height="48"/><rect class="t" width="19" height="13.5"/><text class="c" x="1" y="12">2,3</text><text class="v" x="24.5" y="30.5">8</text></g>
<g id="ilp-30" transform="translate(0,214.5)"><rect class="n" width="49" height="48"/><rect class="t" width="19" height="13.5"/><text class="c" x="1" y="12">3,0</text><text class="v" x="24.5" y="30.5">2</text></g>
<g id="ilp-31" transform="translate(73.5,214.5)"><rect class="n" width="49" height="48"/><rect class="t" width="19" height="13.5"/><text class="c" x="1" y="12">3,1</text><text class="v" x="24.5" y="30.5">1</text></g>
<g id="ilp-32" transform="translate(147,214.5)"><rect class="n" width="49" height="48"/><rect class="t" width="19" height="13.5"/><text class="c" x="1" y="12">3,2</text><text class="v" x="24.5" y="30.5">9</text></g>
<g id="ilp-33" transform="translate(220.5,214.5)"><rect class="n" width="49" height="48"/><rect class="t" width="19" height="13.5"/><text class="c" x="1" y="12">3,3</text><text class="v" x="24.5" y="30.5">10</text></g>
<text class="lbl" x="134.75" y="278.5">ILP</text>
</g>

<g id="ga" transform="translate(502,667.5)">
<g id="ga-00" transform="translate(0,0)"><rect class="n" width="49" height="48"/><rect class="t" width="19" height="13.5"/><text class="c" x="1" y="12">0,0</text><text class="v" x="24.5" y="30.5">3</text></g>
<g id="ga-01" transform="translate(73.5,0)"><rect class="n" width="49" height="48"/><rect class="t" width="19" height="13.5"/><text class="c" x="1" y="12">0,1</text><text class="v" x="24.5" y="30.5">4</text></g>
<g id="ga-02" transform="translate(147,0)"><rect class="n" width="49" height="48"/><rect class="t" width="19" height="13.5"/><text class="c" x="1" y="12">0,2</text><text class="v" x="24.5" y="30.5">2</text></g>
<g id="ga-03" transform="translate(220.5,0)"><rect class="n" width="49" height="48"/><rect class="t" width="19" height="13.5"/><text class="c" x="1" y="12">0,3</text><text class="v" x="24.5" y="30.5">1</text></g>
<g id="ga-10" transform="translate(0,71.5)"><rect class="n" width="49" height="48"/><rect class="t" width="19" height="13.5"/><text class="c" x="1" y="12">1,0</text><text class="v" x="24.5" y="30.5">16</text></g>
<g id="ga-11" transform="translate(73.5,71.5)"><rect class="n" width="49" height="48"/><rect class="t" width="19" height="13.5"/><text class="c" x="1" y="12">1,1</text><text class="v" x="24.5" y="30.5">5</text></g>
<g id="ga-12" transform="translate(147,71.5)"><rect class="n" width="49" height="48"/><rect class="t" width="19" height="13.5"/><text class="c" x="1" y="12">1,2</text><text class="v" x="24.5" y="30.5">11</text></g>
<g id="ga-13" transform="translate(220.5,71.5)"><rect class="n" width="49" height="48"/><rect class="t" width="19" height="13.5"/><text class="c" x="1" y="12">1,3</text><text class="v" x="24.5" y="30.5">15</text></g>
<g id="ga-20" transform="translate(0,143)"><rect class="n" width="49" height="48"/><rect class="t" width="19" height="13.5"/><text class="c" x="1" y="12">2,0</text><text class="v" x="24.5" y="30.5">7</text></g>
<g id="ga-21" transform="translate(73.5,143)"><rect class="n" width="49" height="48"/><rect class="t" width="19" height="13.5"/><text class="c" x="1" y="12">2,1</text><text class="v" x="24.5" y="30.5">6</text></g>
<g id="ga-22" transform="translate(147,143)"><rect class="n" width="49" height="48"/><rect class="t" width="19" height="13.5"/><text class="c" x="1" y="12">2,2</text><text class="v" x="24.5" y="30.5">12</text></g>
<g id="ga-23" transform="translate(220.5,143)"><rect class="n" width="49" height="48"/><rect class="t" width="19" height="13.5"/><text class="c" x="1" y="12">2,3</text><text class="v" x="24.5" y="30.5">13</text></g>
<g id="ga-30" transform="translate(0,214.5)"><rect class="n" width="49" height="48"/><rect class="t" width="19" height="13.5"/><text class="c" x="1" y="12">3,0</text><text class="v" x="24.5" y="30.5">8</text></g>
<g id="ga-31" transform="translate(73.5,214.5)"><rect class="n" width="49" height="48"/><rect class="t" width="19" height="13.5"/><text class="c" x="1" y="12">3,1</text><text class="v" x="24.5" y="30.5">10</text></g>
<g id="ga-32" transform="translate(147,214.5)"><rect class="n" width="49" height="48"/><rect class="t" width="19" height="13.5"/><text class="c" x="1" y="12">3,2</text><text class="v" x="24.5" y="30.5">9</text></g>
<g id="ga-33" transform="translate(220.5,214.5)"><rect class="n" width="49" height="48"/><rect class="t" width="19" height="13.5"/><text class="c" x="1" y="12">3,3</text><text class="v" x="24.5" y="30.5">14</text></g>
<text class="lbl" x="134.75" y="278.5">GA</text>
</g>

<g id="onmap" transform="translate(818,667.5)">
<g id="onmap-00" transform="translate(0,0)"><rect class="n" width="49" height="48"/><rect class="t" width="19" height="13.5"/><text class="c" x="1" y="12">0,0</text><text class="v" x="24.5" y="30.5">4</text></g>
<g id="onmap-01" transform="translate(73.5,0)"><rect class="n" width="49" height="48"/><rect class="t" width="19" height="13.5"/><text class="c" x="1" y="12">0,1</text><text class="v" x="24.5" y="30.5">6</text></g>
<g id="onmap-02" transform="translate(147,0)"><rect class="n" width="49" height="48"/><rect class="t" width="19" height="13.5"/><text class="c" x="1" y="12">0,2</text><text class="v" x="24.5" y="30.5">5</text></g>
<g id="onmap-03" transform="translate(220.5,0)"><rect class="n" width="49" height="48"/><rect class="t" width="19" height="13.5"/><text class="c" x="1" y="12">0,3</text><text class="v" x="24.5" y="30.5">12</text></g>
<g id="onmap-10" transform="translate(0,71.5)"><rect class="n" width="49" height="48"/><rect class="t" width="19" height="13.5"/><text class="c" x="1" y="12">1,0</text><text class="v" x="24.5" y="30.5">3</text></g>
<g id="onmap-11" transform="translate(73.5,71.5)"><rect class="n" width="49" height="48"/><rect class="t" width="19" height="13.5"/><text class="c" x="1" y="12">1,1</text><text class="v" x="24.5" y="30.5">7</text></g>
<g id="onmap-12" transform="translate(147,71.5)"><rect class="n" width="49" height="48"/><rect class="t" width="19" height="13.5"/><text class="c" x="1" y="12">1,2</text><text class="v" x="24.5" y="30.5">13</text></g>
<g id="onmap-13" transform="translate(220.5,71.5)"><rect class="n" width="49" height="48"/><rect class="t" width="19" height="13.5"/><text class="c" x="1" y="12">1,3</text><text class="v" x="24.5" y="30.5">16</text></g>
<g id="onmap-20" transform="translate(0,143)"><rect class="n" width="49" height="48"/><rect class="t" width="19" height="13.5"/><text class="c" x="1" y="12">2,0</text><text class="v" x="24.5" y="30.5">2</text></g>
<g id="onmap-21" transform="translate(73.5,143)"><rect class="n" width="49" height="48"/><rect class="t" width="19" height="13.5"/><text class="c" x="1" y="12">2,1</text><text class="v" x="24.5" y="30.5">8</text></g>
<g id="onmap-22" transform="translate(147,143)"><rect class="n" width="49" height="48"/><rect class="t" width="19" height="13.5"/><text class="c" x="1" y="12">2,2</text><text class="v" x="24.5" y="30.5">10</text></g>
<g id="onmap-23" transform="translate(220.5,143)"><rect class="n" width="49" height="48"/><rect class="t" width="19" height="13.5"/><text class="c" x="1" y="12">2,3</text><text class="v" x="24.5" y="30.5">14</text></g>
<g id="onmap-30" transform="translate(0,214.5)"><rect class="n" width="49" height="48"/><rect class="t" width="19" height="13.5"/><text class="c" x="1" y="12">3,0</text><text class="v" x="24.5" y="30.5">1</text></g>
<g id="onmap-31" transform="translate(73.5,214.5)"><rect class="n" width="49" height="48"/><rect class="t" width="19" height="13.5"/><text class="c" x="1" y="12">3,1</text><text class="v" x="24.5" y="30.5">9</text></g>
<g id="onmap-32" transform="translate(147,214.5)"><rect class="n" width="49" height="48"/><rect class="t" width="19" height="13.5"/><text class="c" x="1" y="12">3,2</text><text class="v" x="24.5" y="30.5">11</text></g>
<g id="onmap-33" transform="translate(220.5,214.5)"><rect class="n" width="49" height="48"/><rect class="t" width="19" height="13.5"/><text class="c" x="1" y="12">3,3</text><text class="v" x="24.5" y="30.5">15</text></g>
<text class="lbl" x="134.75" y="278.5">ONMAP</text>
</g>
</svg>
